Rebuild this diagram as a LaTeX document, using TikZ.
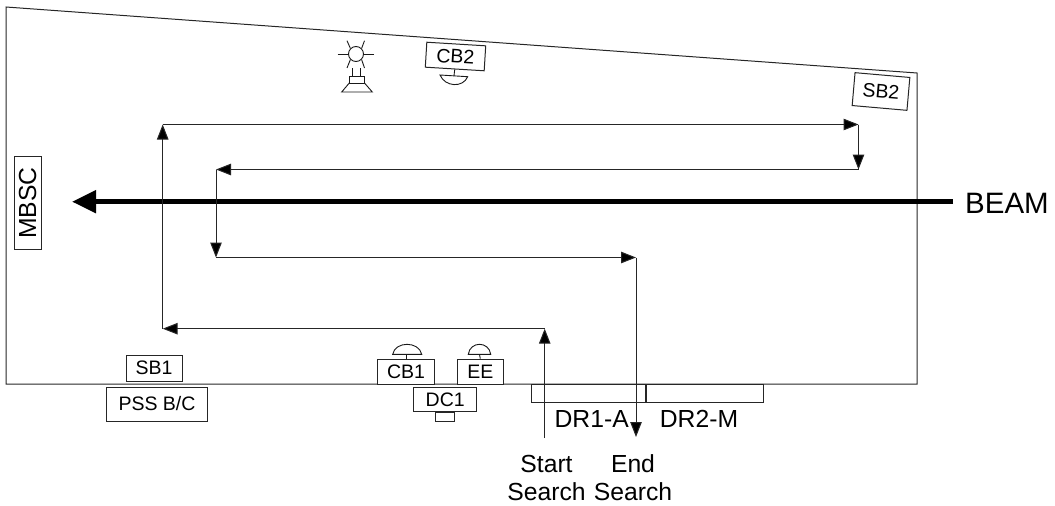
\documentclass[tikz,border=0pt]{standalone}
\usepackage{fontspec}
\setmainfont{Liberation Sans}
\usetikzlibrary{arrows.meta}
\tikzset{
  outline/.style={draw=black!85,line width=1pt},
  tag/.style={draw=black!85,line width=1pt,fill=white,inner sep=0pt,minimum height=#1,align=center,anchor=center},
  tag/.default=25pt,
  lbl/.style={inner sep=0pt,align=center,font=\fontsize{24.7}{28}\selectfont},
  small/.style={font=\fontsize{19.5}{22}\selectfont},
  search/.style={draw=black!85,line width=1pt,-{Triangle[length=15pt,width=11.5pt,fill=black]}},
  beamline/.style={draw=black,line width=5pt,-{Triangle[length=24pt,width=22pt,fill=black]}},
  sym/.style={draw=black!90,line width=0.9pt}
}
\begin{document}
\begin{tikzpicture}[x=1pt,y=-1pt]
\useasboundingbox (0,0) rectangle (1055,506);
% room outline
\coordinate (tl) at (6,7);
\coordinate (tr) at (917,73);
\coordinate (br) at (917,384);
\coordinate (bl) at (6,384);
\draw[outline] (tl) -- (tr) -- (br) -- (bl) -- cycle;
% boxes
\node[tag=25pt,small,minimum width=59pt,rotate=-3.5] (cb2) at (455.5,56.5) {CB2};
\node[tag=33pt,small,minimum width=55pt,rotate=-5] (sb2) at (881,91.5) {SB2};
\node[tag=27pt,lbl,minimum width=93pt,rotate=90] (mbsc) at (27.7,203.3) {MBSC};
\node[tag=26pt,small,minimum width=56pt] (sb1) at (154,368) {SB1};
\node[tag=34pt,small,minimum width=101pt] (pss) at (157,404) {PSS B/C};
\node[tag=25pt,small,minimum width=57.5pt] (cb1) at (406,371.7) {CB1};
\node[tag=25pt,small,minimum width=46pt] (ee) at (480.3,371.7) {EE};
\node[tag=23.5pt,small,minimum width=63pt] (dc1) at (445.2,399.7) {DC1};
\node[draw=black!85,line width=0.9pt,minimum width=19.4pt,minimum height=9pt,inner sep=0pt,anchor=north] (dc1foot) at (dc1.south) {};
\node[draw=black!85,line width=1pt,minimum width=114pt,minimum height=18pt,inner sep=0pt,anchor=north east] (dr1) at (645.7,384) {};
\node[draw=black!85,line width=1pt,minimum width=117.6pt,minimum height=18pt,inner sep=0pt,anchor=north west] (dr2) at (645.7,384) {};
% labels
\node[lbl] (dr1a) at (591.7,419) {DR1-A};
\node[lbl] (dr2m) at (699,419) {DR2-M};
\node[lbl] (st) at (546.5,478) {Start\\Search};
\node[lbl] (en) at (633,478) {End\\Search};
\node[inner sep=0pt,font=\fontsize{29.5}{32}\selectfont,anchor=west] (bm) at (965,203) {BEAM};
% beam
\coordinate (bmstart) at (953,201.7);
\coordinate (bmend) at (72,201.7);
\draw[beamline] (bmstart) -- (bmend);
% search path
\coordinate (p0) at (544.7,438);
\coordinate (p1) at (544.7,328.7);
\coordinate (p2) at (162.7,328.7);
\coordinate (p3) at (162.7,124.5);
\coordinate (p4) at (858.5,124.5);
\coordinate (p5) at (858.5,169.5);
\coordinate (p6) at (216,169.5);
\coordinate (p7) at (216,257.5);
\coordinate (p8) at (636,257.5);
\coordinate (p9) at (636,437);
\foreach \a/\b in {p0/p1,p1/p2,p2/p3,p3/p4,p4/p5,p5/p6,p6/p7,p7/p8,p8/p9}{
  \draw[search] (\a) -- (\b);
}
% beacon
\node[draw=black!90,line width=0.9pt,circle,minimum size=15pt,inner sep=0pt] (lamp) at (356,54) {};
\draw[sym] (337.5,54) -- (lamp.west);
\draw[sym] (374,54) -- (lamp.east);
\draw[sym] (347,40.7) -- (lamp.north west);
\draw[sym] (364.5,40.7) -- (lamp.north east);
\draw[sym] (347,68) -- (lamp.south west);
\draw[sym] (364.5,68) -- (lamp.south east);
\draw[sym] (352.7,68) -- (352.7,76);
\draw[sym] (360.7,68) -- (360.7,76);
\draw[sym] (349.3,76) rectangle (364.5,83);
\draw[sym] (349.3,83) -- (341.7,92) -- (372.3,92) -- (364.5,83);
% bells
\draw[sym] (392.7,354.3) .. controls (395,341) and (419,341) .. (421.7,354.3) -- cycle;
\draw[sym] (406,354.3) -- (cb1.north);
\draw[sym] (468.3,354.3) .. controls (470,341) and (489,341) .. (490.7,354.3) -- cycle;
\draw[sym] (479.5,354.3) -- (ee.north);
\draw[sym] (440,75) .. controls (445,87) and (463,88) .. (467.7,76.7) -- cycle;
\draw[sym] (454,75.8) -- (cb2.south);
\end{tikzpicture}
\end{document}
